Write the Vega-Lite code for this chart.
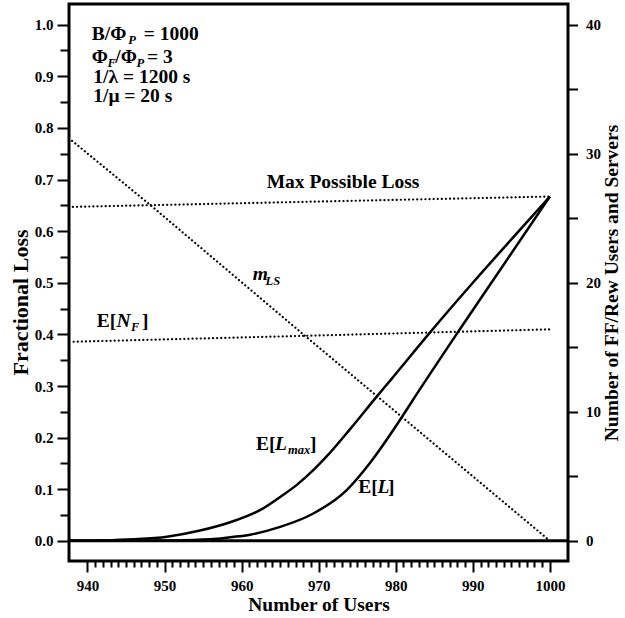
{
  "$schema": "https://vega.github.io/schema/vega-lite/v6.json",
  "width": 499,
  "height": 557,
  "autosize": {"type": "none"},
  "padding": {"left": 69, "top": 4, "right": 57, "bottom": 57},
  "background": "white",
  "config": {
    "view": {"stroke": "black", "strokeWidth": 3},
    "font": "Liberation Serif",
    "axis": {
      "labelFont": "Liberation Serif", "labelFontWeight": "bold", "labelFontSize": 15, "labelColor": "black",
      "titleFont": "Liberation Serif", "titleFontWeight": "bold", "titleFontSize": 19.5, "titleColor": "black",
      "tickColor": "black", "tickWidth": 2, "domain": false, "grid": false,
      "labelOverlap": false, "labelFlush": false, "labelBound": false
    }
  },
  "datasets": {
    "loss": [
      {"n": 937.6, "series": "E[Lmax]", "v": 0},
      {"n": 942, "series": "E[Lmax]", "v": 0.0008},
      {"n": 946, "series": "E[Lmax]", "v": 0.003},
      {"n": 950.3, "series": "E[Lmax]", "v": 0.008},
      {"n": 954.6, "series": "E[Lmax]", "v": 0.020},
      {"n": 958.7, "series": "E[Lmax]", "v": 0.037},
      {"n": 962.8, "series": "E[Lmax]", "v": 0.063},
      {"n": 965, "series": "E[Lmax]", "v": 0.085},
      {"n": 967.2, "series": "E[Lmax]", "v": 0.109},
      {"n": 969.5, "series": "E[Lmax]", "v": 0.140},
      {"n": 971, "series": "E[Lmax]", "v": 0.163},
      {"n": 974.1, "series": "E[Lmax]", "v": 0.217},
      {"n": 977.5, "series": "E[Lmax]", "v": 0.279},
      {"n": 979.3, "series": "E[Lmax]", "v": 0.311},
      {"n": 984.4, "series": "E[Lmax]", "v": 0.403},
      {"n": 990, "series": "E[Lmax]", "v": 0.500},
      {"n": 995, "series": "E[Lmax]", "v": 0.584},
      {"n": 1000, "series": "E[Lmax]", "v": 0.667},
      {"n": 937.6, "series": "E[L]", "v": 0},
      {"n": 948, "series": "E[L]", "v": 0.0003},
      {"n": 952, "series": "E[L]", "v": 0.001},
      {"n": 956.8, "series": "E[L]", "v": 0.004},
      {"n": 958.5, "series": "E[L]", "v": 0.007},
      {"n": 961.1, "series": "E[L]", "v": 0.012},
      {"n": 965, "series": "E[L]", "v": 0.027},
      {"n": 969.3, "series": "E[L]", "v": 0.053},
      {"n": 973.6, "series": "E[L]", "v": 0.098},
      {"n": 976.7, "series": "E[L]", "v": 0.152},
      {"n": 980.8, "series": "E[L]", "v": 0.240},
      {"n": 982.1, "series": "E[L]", "v": 0.270},
      {"n": 988.1, "series": "E[L]", "v": 0.405},
      {"n": 994, "series": "E[L]", "v": 0.535},
      {"n": 1000, "series": "E[L]", "v": 0.667}
    ],
    "maxloss": [
      {"n": 938.1, "v": 0.647},
      {"n": 969, "v": 0.657},
      {"n": 1000, "v": 0.667}
    ],
    "zero": [
      {"n": 937.6, "v": 0},
      {"n": 1002.35, "v": 0}
    ],
    "enf": [
      {"n": 938.2, "c": 15.43},
      {"n": 969, "c": 15.9},
      {"n": 1000, "c": 16.39}
    ],
    "mls": [
      {"n": 938, "c": 31.0},
      {"n": 948, "c": 26.1},
      {"n": 968.4, "c": 15.8},
      {"n": 1000, "c": 0}
    ],
    "roman": [
      {"n": 940.55, "v": 0.9703, "t": "B/Φ"},
      {"n": 947.3, "v": 0.9703, "t": "= 1000"},
      {"n": 940.55, "v": 0.9263, "t": "Φ"},
      {"n": 943.6, "v": 0.9263, "t": "/Φ"},
      {"n": 947.72, "v": 0.9263, "t": "= 3"},
      {"n": 940.75, "v": 0.8864, "t": "1/λ = 1200 s"},
      {"n": 940.75, "v": 0.8511, "t": "1/μ = 20 s"},
      {"n": 963.25, "v": 0.6835, "t": "Max Possible Loss"},
      {"n": 941.19, "v": 0.4149, "t": "E["},
      {"n": 947.07, "v": 0.4149, "t": "]"},
      {"n": 961.87, "v": 0.1760, "t": "E["},
      {"n": 968.87, "v": 0.1760, "t": "]"},
      {"n": 975.14, "v": 0.0921, "t": "E["},
      {"n": 978.99, "v": 0.0921, "t": "]"}
    ],
    "italic": [
      {"n": 943.76, "v": 0.4149, "t": "N"},
      {"n": 961.44, "v": 0.5053, "t": "m"},
      {"n": 964.33, "v": 0.1760, "t": "L"},
      {"n": 977.63, "v": 0.0921, "t": "L"}
    ],
    "subs": [
      {"n": 945.3, "v": 0.9625, "t": "P"},
      {"n": 942.6, "v": 0.9189, "t": "F"},
      {"n": 946.35, "v": 0.9189, "t": "P"},
      {"n": 945.65, "v": 0.4071, "t": "F"},
      {"n": 963.1, "v": 0.4956, "t": "LS"},
      {"n": 966.02, "v": 0.1692, "t": "max"}
    ]
  },
  "encoding": {
    "x": {
      "field": "n", "type": "quantitative",
      "scale": {"domain": [937.6, 1002.35], "nice": false, "zero": false},
      "axis": {
        "orient": "bottom",
        "title": "Number of Users",
        "values": [940,941,942,943,944,945,946,947,948,949,950,951,952,953,954,955,956,957,958,959,960,961,962,963,964,965,966,967,968,969,970,971,972,973,974,975,976,977,978,979,980,981,982,983,984,985,986,987,988,989,990,991,992,993,994,995,996,997,998,999,1000],
        "format": "d",
        "labelExpr": "datum.value % 10 === 0 ? datum.label : ''",
        "tickSize": {"condition": {"test": "datum.value % 10 === 0", "value": 11}, "value": 6},
        "labelPadding": 6,
        "titlePadding": 2
      }
    }
  },
  "layer": [
    {
      "data": {"name": "loss"},
      "mark": {"type": "line", "color": "black", "strokeWidth": 2.5, "interpolate": "monotone"},
      "encoding": {
        "y": {
          "field": "v", "type": "quantitative",
          "scale": {"domain": [-0.039, 1.04], "nice": false, "zero": false},
          "axis": {
            "orient": "left",
            "title": "Fractional Loss",
            "titleFontSize": 22,
            "titleAngle": 270,
            "titleBaseline": "alphabetic",
            "titleAlign": "center",
            "titleX": -42,
            "titleY": 298,
            "values": [0,0.05,0.1,0.15,0.2,0.25,0.3,0.35,0.4,0.45,0.5,0.55,0.6,0.65,0.7,0.75,0.8,0.85,0.9,0.95,1.0],
            "labelExpr": "round(datum.value*20) % 2 === 0 ? format(datum.value, '.1f') : ''",
            "tickSize": {"condition": {"test": "round(datum.value*20) % 2 === 0", "value": 12}, "value": 9},
            "labelPadding": 4
          }
        },
        "detail": {"field": "series"}
      }
    },
    {
      "data": {"name": "maxloss"},
      "mark": {"type": "line", "color": "black", "strokeWidth": 2.2, "strokeDash": [0.1, 4], "strokeCap": "round"},
      "encoding": {
        "y": {"field": "v", "type": "quantitative", "scale": {"domain": [-0.039, 1.04], "nice": false, "zero": false}, "axis": null}
      }
    },
    {
      "data": {"name": "zero"},
      "mark": {"type": "line", "color": "black", "strokeWidth": 3},
      "encoding": {
        "y": {"field": "v", "type": "quantitative", "scale": {"domain": [-0.039, 1.04], "nice": false, "zero": false}, "axis": null}
      }
    },
    {
      "data": {"name": "enf"},
      "mark": {"type": "line", "color": "black", "strokeWidth": 2.2, "strokeDash": [0.1, 4], "strokeCap": "round"},
      "encoding": {
        "y": {
          "field": "c", "type": "quantitative",
          "scale": {"domain": [-1.56, 41.6], "nice": false, "zero": false},
          "axis": {
            "orient": "right",
            "title": "Number of FF/Rew Users and Servers",
            "values": [0,5,10,15,20,25,30,35,40],
            "labelExpr": "datum.value % 10 === 0 ? datum.label : ''",
            "tickSize": 9.5,
            "labelPadding": 8,
            "titleAngle": 270,
            "titleBaseline": "top",
            "titlePadding": 2
          }
        }
      }
    },
    {
      "data": {"name": "mls"},
      "mark": {"type": "line", "color": "black", "strokeWidth": 2.2, "strokeDash": [0.1, 4], "strokeCap": "round"},
      "encoding": {
        "y": {"field": "c", "type": "quantitative", "scale": {"domain": [-1.56, 41.6], "nice": false, "zero": false}, "axis": null}
      }
    },
    {
      "data": {"name": "roman"},
      "mark": {"type": "text", "align": "left", "baseline": "alphabetic", "font": "Liberation Serif", "fontWeight": "bold", "fontSize": 19.5, "color": "black"},
      "encoding": {
        "y": {"field": "v", "type": "quantitative", "scale": {"domain": [-0.039, 1.04], "nice": false, "zero": false}, "axis": null},
        "text": {"field": "t"}
      }
    },
    {
      "data": {"name": "italic"},
      "mark": {"type": "text", "align": "left", "baseline": "alphabetic", "font": "Liberation Serif", "fontWeight": "bold", "fontStyle": "italic", "fontSize": 19.5, "color": "black"},
      "encoding": {
        "y": {"field": "v", "type": "quantitative", "scale": {"domain": [-0.039, 1.04], "nice": false, "zero": false}, "axis": null},
        "text": {"field": "t"}
      }
    },
    {
      "data": {"name": "subs"},
      "mark": {"type": "text", "align": "left", "baseline": "alphabetic", "font": "Liberation Serif", "fontWeight": "bold", "fontStyle": "italic", "fontSize": 12.5, "color": "black"},
      "encoding": {
        "y": {"field": "v", "type": "quantitative", "scale": {"domain": [-0.039, 1.04], "nice": false, "zero": false}, "axis": null},
        "text": {"field": "t"}
      }
    }
  ],
  "resolve": {"scale": {"y": "independent"}}
}
